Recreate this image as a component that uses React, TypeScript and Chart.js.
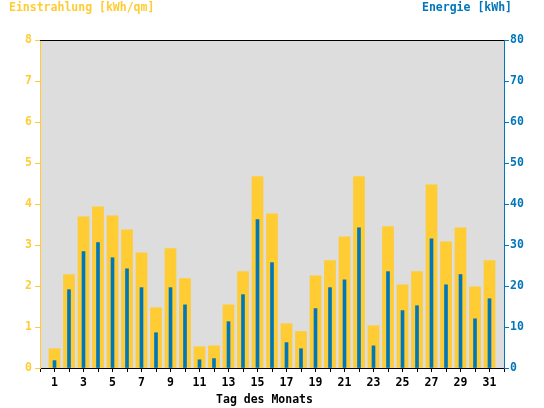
import { useEffect, useRef } from 'react';
import { Chart, registerables } from 'chart.js';

Chart.register(...registerables);

const days = [
  '1', '2', '3', '4', '5', '6', '7', '8', '9', '10', '11', '12', '13', '14', '15', '16',
  '17', '18', '19', '20', '21', '22', '23', '24', '25', '26', '27', '28', '29', '30', '31',
];

// Einstrahlung [kWh/qm]
const irradiation = [
  0.47, 2.28, 3.69, 3.93, 3.71, 3.37, 2.81, 1.47, 2.91, 2.18, 0.52, 0.54, 1.54, 2.35, 4.67, 3.76,
  1.08, 0.89, 2.25, 2.62, 3.2, 4.67, 1.03, 3.45, 2.03, 2.35, 4.47, 3.08, 3.42, 1.98, 2.62,
];

// Energie [kWh]
const energy = [
  1.8, 19.1, 28.4, 30.6, 26.9, 24.2, 19.6, 8.6, 19.6, 15.4, 2.0, 2.3, 11.3, 17.9, 36.2, 25.7,
  6.2, 4.7, 14.5, 19.6, 21.5, 34.2, 5.4, 23.5, 14.0, 15.2, 31.5, 20.3, 22.8, 12.0, 16.9,
];

const leftAxis = { min: 0, max: 8, step: 1 };
const rightAxis = { min: 0, max: 80, step: 10 };

const leftTitle = 'Einstrahlung [kWh/qm]';
const rightTitle = 'Energie [kWh]';
const xTitle = 'Tag des Monats';

const YELLOW = '#ffcc33';
const BLUE = '#0077bb';
const FONT_FAMILY = '"DejaVu Sans Mono", monospace';

export default function App() {
  const canvasRef = useRef<HTMLCanvasElement | null>(null);

  useEffect(() => {
    const canvas = canvasRef.current;
    if (!canvas) return;

    // slots: empty edge slot, days 1..31, empty edge slot
    const xLabels = ['', ...days, ''];
    const irrData = [null, ...irradiation, null];
    const energyData = [null, ...energy, null];

    const font = { family: FONT_FAMILY, size: 11.5, weight: 'bold' as const };

    const decor = {
      id: 'decor',
      beforeDraw(chart: any) {
        const { ctx, chartArea } = chart;
        ctx.save();
        ctx.fillStyle = '#dddddd';
        ctx.fillRect(chartArea.left, chartArea.top, chartArea.right - chartArea.left, chartArea.bottom - chartArea.top);
        ctx.restore();
      },
      afterDraw(chart: any) {
        const { ctx, chartArea } = chart;
        ctx.save();
        ctx.strokeStyle = '#000000';
        ctx.lineWidth = 1;
        ctx.beginPath();
        ctx.moveTo(chartArea.left, chartArea.top + 0.5);
        ctx.lineTo(chartArea.right, chartArea.top + 0.5);
        ctx.stroke();

        ctx.font = `bold 11.5px ${FONT_FAMILY}`;
        ctx.textBaseline = 'alphabetic';
        ctx.fillStyle = YELLOW;
        ctx.textAlign = 'left';
        ctx.fillText(leftTitle, 9, 11);
        ctx.fillStyle = BLUE;
        ctx.textAlign = 'right';
        ctx.fillText(rightTitle, 512, 11);
        ctx.fillStyle = '#000000';
        ctx.textAlign = 'center';
        ctx.fillText(xTitle, 264.5, 403);
        ctx.restore();
      },
    };

    const chart = new Chart(canvas, {
      type: 'bar',
      data: {
        labels: xLabels,
        datasets: [
          {
            label: rightTitle,
            data: energyData as any,
            yAxisID: 'y2',
            backgroundColor: BLUE,
            barThickness: 3,
            grouped: false,
            borderWidth: 0,
          },
          {
            label: leftTitle,
            data: irrData as any,
            yAxisID: 'y',
            backgroundColor: YELLOW,
            barThickness: 11,
            grouped: false,
            borderWidth: 0,
          },
        ],
      },
      options: {
        responsive: false,
        animation: false,
        devicePixelRatio: 1,
        layout: { padding: { top: 40, left: 0, right: 0, bottom: 0 } },
        plugins: {
          legend: { display: false },
          tooltip: { enabled: false },
          title: { display: false },
        },
        scales: {
          x: {
            type: 'category',
            offset: false,
            grid: {
              offset: false,
              drawOnChartArea: false,
              drawTicks: true,
              tickLength: 4,
              color: '#000000',
            },
            border: { color: '#000000', width: 1 },
            ticks: {
              autoSkip: false,
              maxRotation: 0,
              minRotation: 0,
              padding: 4,
              color: '#000000',
              font,
              callback: (_v: any, i: number) => (i % 2 === 1 ? xLabels[i] : ''),
            },
            afterFit: (s: any) => {
              s.height = 40;
            },
          },
          y: {
            position: 'left',
            min: leftAxis.min,
            max: leftAxis.max,
            grid: { drawOnChartArea: false, drawTicks: true, tickLength: 5, color: YELLOW },
            border: { color: YELLOW, width: 1 },
            ticks: { stepSize: leftAxis.step, color: YELLOW, font, padding: 3 },
            afterFit: (s: any) => {
              s.width = 40;
            },
          },
          y2: {
            position: 'right',
            min: rightAxis.min,
            max: rightAxis.max,
            grid: { drawOnChartArea: false, drawTicks: true, tickLength: 5, color: BLUE },
            border: { color: BLUE, width: 1 },
            ticks: { stepSize: rightAxis.step, color: BLUE, font, padding: 1 },
            afterFit: (s: any) => {
              s.width = 40;
            },
          },
        },
      },
      plugins: [decor],
    });

    return () => {
      chart.destroy();
    };
  }, []);

  return (
    <div style={{ position: 'absolute', left: 0, top: 0, width: 544, height: 408, background: '#ffffff' }}>
      <canvas ref={canvasRef} width={544} height={408} style={{ display: 'block', width: 544, height: 408 }} />
    </div>
  );
}
